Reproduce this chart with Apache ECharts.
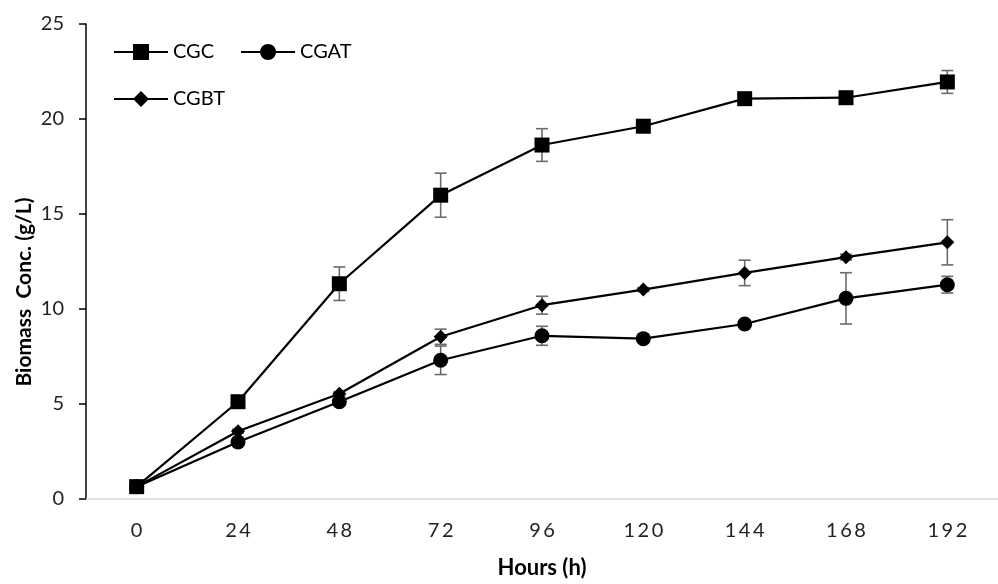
<!DOCTYPE html>
<html>
<head>
<meta charset="utf-8">
<script src="https://cdn.jsdelivr.net/npm/echarts@6/dist/echarts.min.js"></script>
<style>
  html, body { margin: 0; padding: 0; background: #fff; }
  #chart { width: 998px; height: 584px; }
</style>
</head>
<body>
<div id="chart"></div>
<script>
// Sampling times (h)
const hours = ['0', '24', '48', '72', '96', '120', '144', '168', '192'];

// Biomass concentration (g/L) per culture
const cgc  = [0.65, 5.12, 11.33, 15.99, 18.63, 19.62, 21.07, 21.12, 21.95];
const cgat = [0.65, 3.00, 5.12, 7.30, 8.59, 8.44, 9.21, 10.56, 11.28];
const cgbt = [0.65, 3.57, 5.54, 8.54, 10.20, 11.02, 11.90, 12.73, 13.51];

// Standard deviations
const cgcErr  = [0.05, 0.10, 0.88, 1.16, 0.86, 0.10, 0.10, 0.10, 0.60];
const cgatErr = [0.05, 0.10, 0.10, 0.75, 0.50, 0.10, 0.10, 1.35, 0.44];
const cgbtErr = [0.05, 0.10, 0.10, 0.40, 0.47, 0.10, 0.67, 0.15, 1.19];

const yTicks = [0, 5, 10, 15, 20, 25];

const FONT = 'Lato, "Open Sans", sans-serif';

function errData(values, errs) {
  return values.map((v, i) => [i, v, errs[i]]);
}

function renderErr(params, api) {
  const x = api.value(0);
  const v = api.value(1);
  const e = api.value(2);
  const top = api.coord([x, v + e]);
  const bot = api.coord([x, v - e]);
  const half = 6;
  const style = { stroke: '#6b6b6b', lineWidth: 1.6 };
  return {
    type: 'group',
    children: [
      { type: 'line', shape: { x1: top[0], y1: top[1], x2: bot[0], y2: bot[1] }, style },
      { type: 'line', shape: { x1: top[0] - half, y1: top[1], x2: top[0] + half, y2: top[1] }, style },
      { type: 'line', shape: { x1: bot[0] - half, y1: bot[1], x2: bot[0] + half, y2: bot[1] }, style }
    ]
  };
}

function lineSeries(name, data, symbol, size) {
  return {
    name, type: 'line', data,
    symbol, symbolSize: size, showSymbol: true,
    lineStyle: { color: '#000', width: 2.2 },
    itemStyle: { color: '#000' },
    z: 3
  };
}

function errSeries(values, errs) {
  return {
    type: 'custom', data: errData(values, errs),
    renderItem: renderErr, z: 2, silent: true
  };
}

const legendText = { fontFamily: FONT, fontSize: 20, color: '#000' };

const chart = echarts.init(document.getElementById('chart'), null, { renderer: 'canvas' });

chart.setOption({
  animation: false,
  backgroundColor: '#fff',
  grid: { left: 86, right: -10, top: 24, bottom: 77, containLabel: false },
  legend: [
    {
      data: ['CGC', 'CGAT'], left: 108, top: 37,
      itemWidth: 54, itemHeight: 20, itemGap: 26,
      textStyle: legendText
    },
    {
      data: ['CGBT'], left: 108, top: 84,
      itemWidth: 54, itemHeight: 20,
      textStyle: legendText
    }
  ],
  graphic: [
    {
      type: 'text', x: 24, y: 292, rotation: Math.PI / 2,
      style: {
        text: 'Biomass  Conc. (g/L)', fontFamily: FONT, fontSize: 21, fontWeight: 'bold',
        fill: '#000', align: 'center', verticalAlign: 'middle'
      }
    }
  ],
  xAxis: {
    type: 'category', data: hours, boundaryGap: true,
    name: 'Hours (h)', nameLocation: 'middle', nameGap: 58,
    nameTextStyle: { fontFamily: FONT, fontSize: 22, fontWeight: 'bold', color: '#000' },
    axisLine: { lineStyle: { color: '#d9d9d9', width: 1.5 } },
    axisTick: { show: false },
    axisLabel: {
      fontFamily: FONT, fontSize: 20, color: '#222', margin: 22,
      formatter: v => v.split('').join('\u2009')
    },
    splitLine: { show: false }
  },
  yAxis: {
    type: 'value', min: yTicks[0], max: yTicks[yTicks.length - 1], interval: 5,
    axisLine: { show: true, lineStyle: { color: '#000', width: 1.5 } },
    axisTick: { show: true, length: 7, lineStyle: { color: '#000', width: 1.5 } },
    axisLabel: { fontFamily: FONT, fontSize: 20, color: '#222', margin: 22 },
    splitLine: { show: false }
  },
  series: [
    errSeries(cgc, cgcErr),
    errSeries(cgat, cgatErr),
    errSeries(cgbt, cgbtErr),
    lineSeries('CGC', cgc, 'rect', 15),
    lineSeries('CGAT', cgat, 'circle', 15),
    lineSeries('CGBT', cgbt, 'diamond', 14)
  ]
});
</script>
</body>
</html>
